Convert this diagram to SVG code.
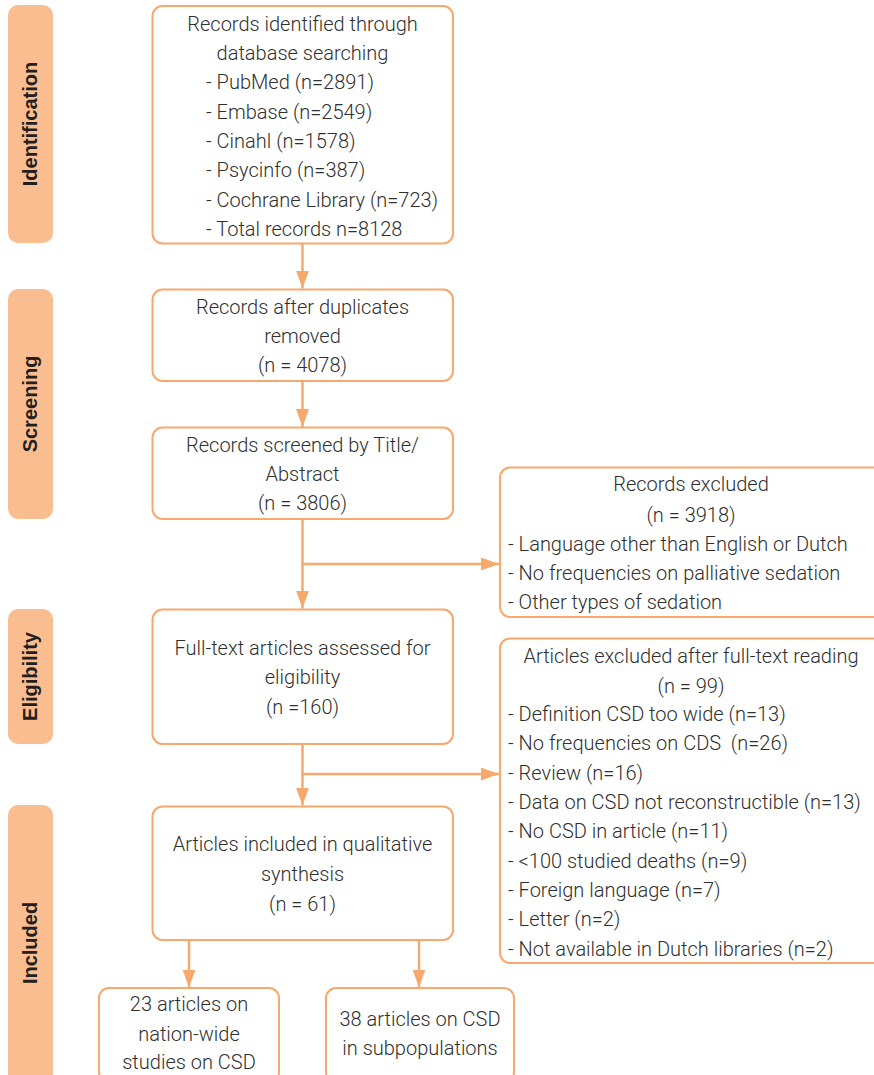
<svg xmlns="http://www.w3.org/2000/svg" width="874" height="1075" viewBox="0 0 874 1075">
<style>
.box{fill:#fff;stroke:#F7A86C;stroke-width:2}
.side{fill:#FABD8F;stroke:none}
.t{font-family:Roboto,"Liberation Sans",Arial,sans-serif;font-weight:300;font-size:20px;fill:#2f2f2f}
.c{text-anchor:middle}
.lab{font-family:"Liberation Sans",Arial,sans-serif;font-size:20px;font-weight:bold;fill:#231f20;text-anchor:middle;dominant-baseline:central}
.con{stroke:#F7A86C;stroke-width:2.5;fill:none}
</style>
<defs>
<marker id="ah" markerUnits="userSpaceOnUse" markerWidth="20" markerHeight="14" refX="18" refY="6.5" orient="auto" viewBox="0 0 20 14">
<path d="M0,0 L18,6.5 L0,13 z" fill="#F7A86C"/>
</marker>
</defs>
<rect width="874" height="1075" fill="#fff"/>

<g id="stage-identification">
<rect class="side" x="8" y="5" width="45" height="238" rx="10"/>
<text class="lab" transform="translate(30,124) rotate(-90)">Identification</text>
</g>
<g id="stage-screening">
<rect class="side" x="8" y="289" width="45" height="230" rx="10"/>
<text class="lab" transform="translate(30,404) rotate(-90)">Screening</text>
</g>
<g id="stage-eligibility">
<rect class="side" x="8" y="609" width="45" height="135" rx="10"/>
<text class="lab" transform="translate(30,676.5) rotate(-90)">Eligibility</text>
</g>
<g id="stage-included">
<rect class="side" x="8" y="805" width="45" height="278" rx="10"/>
<text class="lab" transform="translate(30,943) rotate(-90)">Included</text>
</g>

<g id="connectors">
<path class="con" d="M302.5,244 V288.5" marker-end="url(#ah)"/>
<path class="con" d="M302.5,381 V427" marker-end="url(#ah)"/>
<path class="con" d="M302.5,519 V608.5" marker-end="url(#ah)"/>
<path class="con" d="M302.5,564 H499" marker-end="url(#ah)"/>
<path class="con" d="M302.5,744 V805.5" marker-end="url(#ah)"/>
<path class="con" d="M302.5,774 H499" marker-end="url(#ah)"/>
<path class="con" d="M189,940 V987.5" marker-end="url(#ah)"/>
<path class="con" d="M419,940 V987.5" marker-end="url(#ah)"/>
</g>

<g id="records-identified">
<rect class="box" x="152.5" y="6" width="300.5" height="237.5" rx="10"/>
<text class="t c" x="302.5" y="30.7">Records identified through</text>
<text class="t c" x="302.5" y="60">database searching</text>
<text class="t" x="206" y="89.3">- PubMed (n=2891)</text>
<text class="t" x="206" y="118.7">- Embase (n=2549)</text>
<text class="t" x="206" y="148">- Cinahl (n=1578)</text>
<text class="t" x="206" y="177.3">- Psycinfo (n=387)</text>
<text class="t" x="206" y="206.7">- Cochrane Library (n=723)</text>
<text class="t" x="206" y="236">- Total records n=8128</text>
</g>

<g id="after-duplicates">
<rect class="box" x="152.5" y="289.5" width="300.5" height="91.5" rx="10"/>
<text class="t c" x="302.5" y="314.3">Records after duplicates</text>
<text class="t c" x="302.5" y="343.3">removed</text>
<text class="t c" x="302.5" y="372.3">(n = 4078)</text>
</g>

<g id="screened">
<rect class="box" x="152.5" y="427.5" width="300.5" height="91.5" rx="10"/>
<text class="t c" x="302.5" y="451.7">Records screened by Title/</text>
<text class="t c" x="302.5" y="481">Abstract</text>
<text class="t c" x="302.5" y="510">(n = 3806)</text>
</g>

<g id="records-excluded">
<rect class="box" x="500" y="467.5" width="400" height="149.5" rx="10"/>
<text class="t c" x="691" y="491">Records excluded</text>
<text class="t c" x="691" y="521.5">(n = 3918)</text>
<text class="t" x="508" y="550.5">- Language other than English or Dutch</text>
<text class="t" x="508" y="579.5">- No frequencies on palliative sedation</text>
<text class="t" x="508" y="608.5">- Other types of sedation</text>
</g>

<g id="full-text">
<rect class="box" x="152.5" y="609.5" width="300.5" height="134.5" rx="10"/>
<text class="t c" x="302.5" y="655">Full-text articles assessed for</text>
<text class="t c" x="302.5" y="684.3">eligibility</text>
<text class="t c" x="302.5" y="714">(n =160)</text>
</g>

<g id="articles-excluded">
<rect class="box" x="500" y="638.5" width="400" height="324.5" rx="10"/>
<text class="t c" x="691" y="662.7">Articles excluded after full-text reading</text>
<text class="t c" x="691" y="692.5">(n = 99)</text>
<text class="t" x="508" y="721">- Definition CSD too wide (n=13)</text>
<text class="t" x="508" y="750.3" xml:space="preserve">- No frequencies on CDS  (n=26)</text>
<text class="t" x="508" y="779.6">- Review (n=16)</text>
<text class="t" x="508" y="809">- Data on CSD not reconstructible (n=13)</text>
<text class="t" x="508" y="838.3">- No CSD in article (n=11)</text>
<text class="t" x="508" y="867.6">- &lt;100 studied deaths (n=9)</text>
<text class="t" x="508" y="897">- Foreign language (n=7)</text>
<text class="t" x="508" y="926.3">- Letter (n=2)</text>
<text class="t" x="508" y="955.6">- Not available in Dutch libraries (n=2)</text>
</g>

<g id="included">
<rect class="box" x="152.5" y="806.5" width="300.5" height="133.5" rx="10"/>
<text class="t c" x="302.5" y="851">Articles included in qualitative</text>
<text class="t c" x="302.5" y="881">synthesis</text>
<text class="t c" x="302.5" y="910.5">(n = 61)</text>
</g>

<g id="nation-wide">
<rect class="box" x="99" y="988" width="180" height="94" rx="10"/>
<text class="t c" x="189" y="1011">23 articles on</text>
<text class="t c" x="189" y="1040.5">nation-wide</text>
<text class="t c" x="189" y="1069">studies on CSD</text>
</g>

<g id="subpopulations">
<rect class="box" x="326" y="988" width="188" height="94" rx="10"/>
<text class="t c" x="420" y="1025.5">38 articles on CSD</text>
<text class="t c" x="420" y="1055">in subpopulations</text>
</g>
</svg>
